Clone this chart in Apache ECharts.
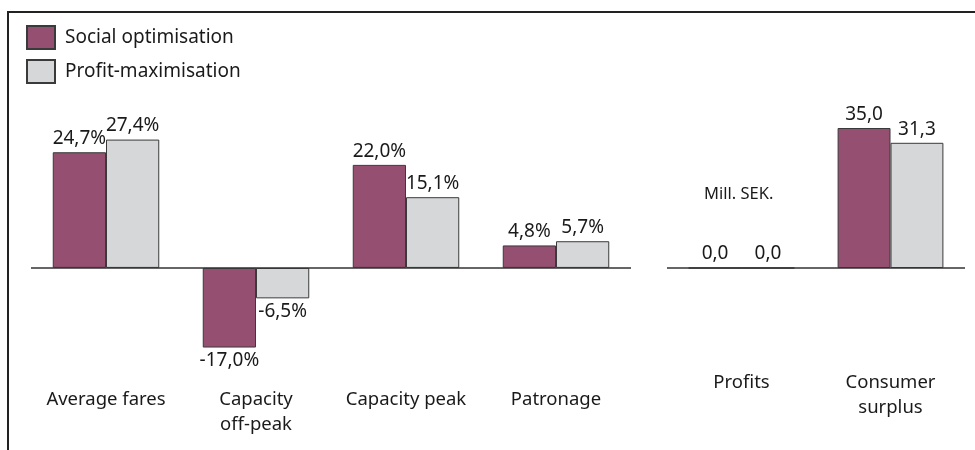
<!DOCTYPE html>
<html>
<head>
<meta charset="utf-8">
<style>
  html, body { margin: 0; padding: 0; background: #ffffff; }
  #chart { width: 975px; height: 450px; }
</style>
<script src="https://cdn.jsdelivr.net/npm/echarts@6/dist/echarts.min.js"></script>
</head>
<body>
<div id="chart"></div>
<script>
// Percentage changes (left panel)
const pctCategories = ['Average fares', 'Capacity\noff-peak', 'Capacity peak', 'Patronage'];
const pctSocial = [24.7, -17.0, 22.0, 4.8];
const pctProfit = [27.4, -6.5, 15.1, 5.7];

// Money amounts in Mill. SEK (right panel)
const sekCategories = ['Profits', 'Consumer\nsurplus'];
const sekSocial = [0.0, 35.0];
const sekProfit = [0.0, 31.3];

const seriesNames = ['Social optimisation', 'Profit-maximisation'];
const unitLabel = 'Mill. SEK.';

const FONT = '"Noto Sans", "Open Sans", sans-serif';
const TEXT = '#1a1a1a';
const SOCIAL = '#944f71';
const PROFIT = '#d6d7d9';
const EDGE = '#3a3a3a';

function fmt(v, suffix) {
  return v.toFixed(1).replace('.', ',') + suffix;
}

function toData(values, suffix) {
  return values.map(v => ({
    value: v,
    label: { position: v < 0 ? 'bottom' : 'top', formatter: fmt(v, suffix) }
  }));
}

function barSeries(name, color, values, suffix, axisIdx, withZeroLine) {
  const s = {
    name: name,
    type: 'bar',
    xAxisIndex: axisIdx,
    yAxisIndex: axisIdx,
    barGap: '0%',
    barCategoryGap: '29%',
    itemStyle: { color: color, borderColor: EDGE, borderWidth: 1 },
    label: {
      show: true,
      distance: 4,
      fontFamily: FONT,
      fontSize: 19,
      color: TEXT
    },
    data: toData(values, suffix),
    animation: false
  };
  if (withZeroLine) {
    s.markLine = {
      silent: true,
      symbol: 'none',
      label: { show: false },
      lineStyle: { color: '#333', width: 1.5, type: 'solid' },
      data: [{ yAxis: 0 }]
    };
  }
  return s;
}

const categoryAxis = (idx, data) => ({
  type: 'category',
  gridIndex: idx,
  data: data,
  axisLine: { show: false },
  axisTick: { show: false },
  axisLabel: {
    interval: 0,
    margin: 2,
    fontFamily: FONT,
    fontSize: 18.5,
    lineHeight: 25,
    color: TEXT
  }
});

const chart = echarts.init(document.getElementById('chart'), null, { renderer: 'canvas' });

chart.setOption({
  backgroundColor: '#ffffff',
  animation: false,
  legend: {
    data: seriesNames,
    orient: 'vertical',
    left: 21,
    top: 20,
    itemWidth: 28,
    itemHeight: 23,
    itemGap: 9,
    icon: 'rect',
    textStyle: { fontFamily: FONT, fontSize: 19, color: TEXT, padding: [0, 0, 0, 5] }
  },
  grid: [
    { left: 31, top: 104, width: 600, height: 281 },
    { left: 667, top: 108, width: 298, height: 260 }
  ],
  xAxis: [categoryAxis(0, pctCategories), categoryAxis(1, sekCategories)],
  yAxis: [
    { type: 'value', gridIndex: 0, min: -25, max: 35, show: false },
    { type: 'value', gridIndex: 1, min: -25, max: 40, show: false }
  ],
  graphic: [
    {
      type: 'polyline',
      shape: { points: [[8, 450], [8, 12], [975, 12]] },
      style: { stroke: '#222', lineWidth: 2, fill: null },
      silent: true
    },
    {
      type: 'text',
      left: 704,
      top: 186,
      style: { text: unitLabel, fontFamily: FONT, fontSize: 16.5, fill: TEXT }
    }
  ],
  series: [
    barSeries(seriesNames[0], SOCIAL, pctSocial, '%', 0, true),
    barSeries(seriesNames[1], PROFIT, pctProfit, '%', 0, false),
    barSeries(seriesNames[0], SOCIAL, sekSocial, '', 1, true),
    barSeries(seriesNames[1], PROFIT, sekProfit, '', 1, false)
  ]
});
</script>
</body>
</html>
